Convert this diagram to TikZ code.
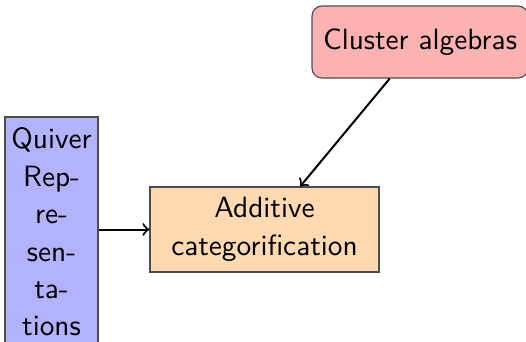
\documentclass[tikz,border=0pt]{standalone}
\usetikzlibrary{arrows}
\newcommand{\pxu}{0.348pt}
\tikzset{
  topic/.style={draw=black!70, thin, font=\sffamily\fontsize{10.2}{13}\selectfont,
                align=center, inner sep=0pt},
  link/.style={->, draw=black, line width=0.7pt}
}
\begin{document}
\begin{tikzpicture}[x=\pxu, y=-\pxu]
  \useasboundingbox (0,0) rectangle (526,341);
  \clip (0,0) rectangle (526,341);
  % source topics
  \node[topic, fill=red!30, rounded corners=10*\pxu,
        minimum width=216*\pxu, minimum height=72*\pxu] (cl) at (420,42) {Cluster algebras};
  \node[topic, fill=blue!30, minimum width=93*\pxu, minimum height=230*\pxu]
        (qr) at (51.5,232) {Quiver\\Rep-\\re-\\sen-\\ta-\\tions};
  % target topic
  \node[topic, fill=orange!30, minimum width=229*\pxu, minimum height=85*\pxu]
        (ac) at (264.5,229.5) {Additive\\categorification};
  % connectors
  \draw[link] (cl) -- (ac);
  \draw[link] (qr.east |- ac.west) -- (ac.west);
\end{tikzpicture}
\end{document}
